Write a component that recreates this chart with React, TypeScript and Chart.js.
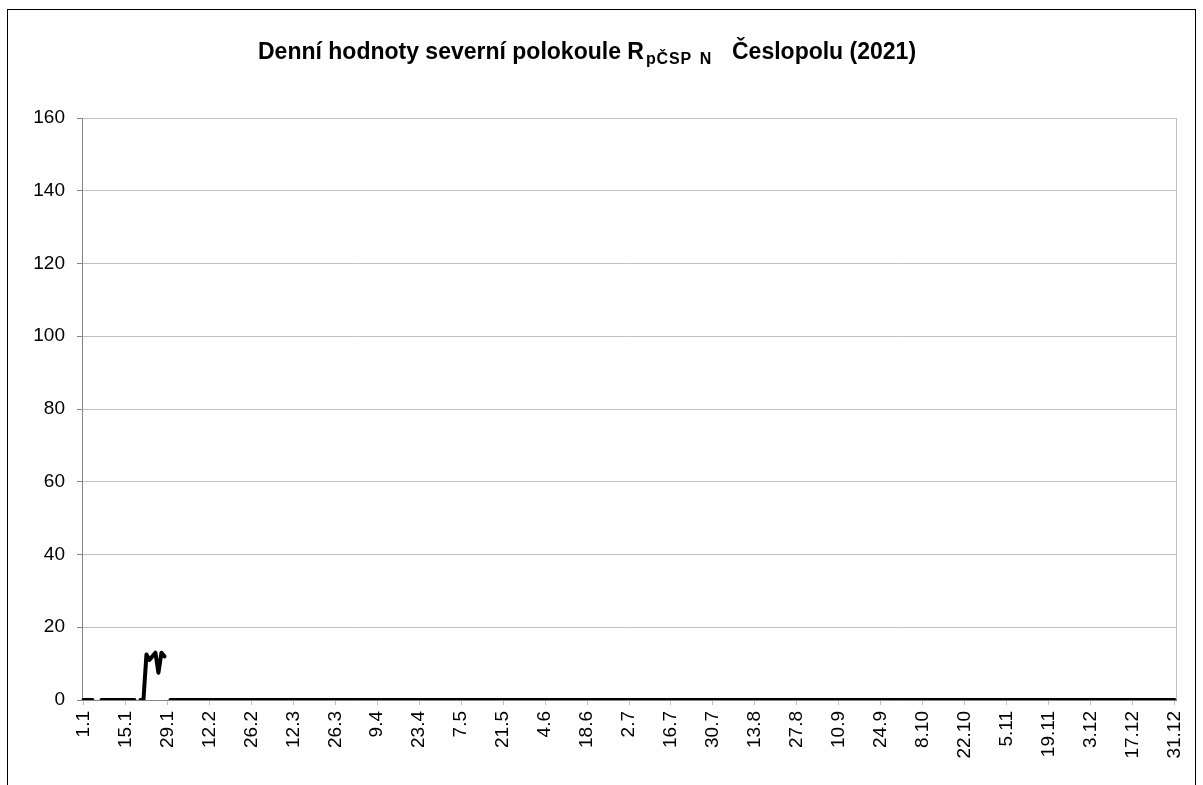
import React, { useEffect, useRef } from "react";
import { Chart, registerables } from "chart.js";

Chart.register(...registerables);

const MONTH_LENGTHS = [31, 28, 31, 30, 31, 30, 31, 31, 30, 31, 30, 31];

const CATEGORIES: string[] = [];
MONTH_LENGTHS.forEach((len, m) => {
  for (let d = 1; d <= len; d++) CATEGORIES.push(`${d}.${m + 1}`);
});

const TICK_LABELS = [
  "1.1", "15.1", "29.1", "12.2", "26.2", "12.3", "26.3", "9.4", "23.4", "7.5",
  "21.5", "4.6", "18.6", "2.7", "16.7", "30.7", "13.8", "27.8", "10.9", "24.9",
  "8.10", "22.10", "5.11", "19.11", "3.12", "17.12", "31.12",
];

const Y_TICKS = [0, 20, 40, 60, 80, 100, 120, 140, 160];

const TITLE_MAIN = "Denní hodnoty severní polokoule R";
const TITLE_SUB = "pČSP N";
const TITLE_END = "Česlopolu (2021)";

// daily values, January (first 29 days read individually), null = missing
const VALUES_START: (number | null)[] = [
  0, 0, 0, 0, null, null, 0, 0, 0, 0,
  0, 0, 0, 0, 0, 0, 0, 0, null, 0,
  0, 12.5, 11, 12, 13, 7.5, 13, 12, null,
];

const VALUES_REST: (number | null)[] = [
  0, 0, 0, 0, 0, 0, 0, 0, 0, 0, 0, 0, 0, 0, 0, 0, 0, 0, 0, 0, 0, 0, 0, 0, 0, 0, 0, 0,
  0, 0, 0, 0, 0, 0, 0, 0, 0, 0, 0, 0, 0, 0, 0, 0, 0, 0, 0, 0, 0, 0, 0, 0, 0, 0, 0, 0,
  0, 0, 0, 0, 0, 0, 0, 0, 0, 0, 0, 0, 0, 0, 0, 0, 0, 0, 0, 0, 0, 0, 0, 0, 0, 0, 0, 0,
  0, 0, 0, 0, 0, 0, 0, 0, 0, 0, 0, 0, 0, 0, 0, 0, 0, 0, 0, 0, 0, 0, 0, 0, 0, 0, 0, 0,
  0, 0, 0, 0, 0, 0, 0, 0, 0, 0, 0, 0, 0, 0, 0, 0, 0, 0, 0, 0, 0, 0, 0, 0, 0, 0, 0, 0,
  0, 0, 0, 0, 0, 0, 0, 0, 0, 0, 0, 0, 0, 0, 0, 0, 0, 0, 0, 0, 0, 0, 0, 0, 0, 0, 0, 0,
  0, 0, 0, 0, 0, 0, 0, 0, 0, 0, 0, 0, 0, 0, 0, 0, 0, 0, 0, 0, 0, 0, 0, 0, 0, 0, 0, 0,
  0, 0, 0, 0, 0, 0, 0, 0, 0, 0, 0, 0, 0, 0, 0, 0, 0, 0, 0, 0, 0, 0, 0, 0, 0, 0, 0, 0,
  0, 0, 0, 0, 0, 0, 0, 0, 0, 0, 0, 0, 0, 0, 0, 0, 0, 0, 0, 0, 0, 0, 0, 0, 0, 0, 0, 0,
  0, 0, 0, 0, 0, 0, 0, 0, 0, 0, 0, 0, 0, 0, 0, 0, 0, 0, 0, 0, 0, 0, 0, 0, 0, 0, 0, 0,
  0, 0, 0, 0, 0, 0, 0, 0, 0, 0, 0, 0, 0, 0, 0, 0, 0, 0, 0, 0, 0, 0, 0, 0, 0, 0, 0, 0,
  0, 0, 0, 0, 0, 0, 0, 0, 0, 0, 0, 0, 0, 0, 0, 0, 0, 0, 0, 0, 0, 0, 0, 0, 0, 0, 0, 0,
];

const VALUES = [...VALUES_START, ...VALUES_REST];

const FONT = "Arial, 'Liberation Sans', sans-serif";

function drawFitted(ctx: any, text: string, x: number, y: number, targetWidth: number, letter = 0) {
  ctx.letterSpacing = `${letter}px`;
  ctx.wordSpacing = "0px";
  const natural = ctx.measureText(text).width;
  const spaces = (text.match(/ /g) || []).length;
  if (spaces > 0) {
    const ws = Math.max(0, (targetWidth - natural) / spaces);
    ctx.wordSpacing = `${ws.toFixed(2)}px`;
  }
  ctx.fillText(text, x, y);
  ctx.wordSpacing = "0px";
  ctx.letterSpacing = "0px";
}

const frameAndTitle = {
  id: "frameAndTitle",
  beforeDraw(chart: any) {
    const ctx = chart.ctx;
    ctx.save();
    ctx.fillStyle = "#ffffff";
    ctx.fillRect(0, 0, chart.width, chart.height);
    ctx.strokeStyle = "#000000";
    ctx.lineWidth = 1;
    ctx.strokeRect(7.5, 9.5, 1188, 800);
    ctx.restore();
  },
  beforeDatasetsDraw(chart: any) {
    const { ctx, chartArea } = chart;
    ctx.save();
    ctx.strokeStyle = "#c0c0c0";
    ctx.lineWidth = 1;
    ctx.beginPath();
    ctx.moveTo(Math.round(chartArea.right) + 0.5, chartArea.top);
    ctx.lineTo(Math.round(chartArea.right) + 0.5, chartArea.bottom);
    ctx.stroke();
    ctx.restore();
  },
  afterDraw(chart: any) {
    const ctx = chart.ctx;
    ctx.save();
    ctx.fillStyle = "#000000";
    ctx.textBaseline = "alphabetic";
    ctx.textAlign = "left";
    ctx.font = `bold 23px ${FONT}`;
    drawFitted(ctx, TITLE_MAIN, 258, 59, 384);
    ctx.font = `bold 16px ${FONT}`;
    drawFitted(ctx, TITLE_SUB, 646, 64, 66, 0.8);
    ctx.font = `bold 23px ${FONT}`;
    drawFitted(ctx, TITLE_END, 732, 59, 184);
    ctx.restore();
  },
};

export default function App() {
  const canvasRef = useRef<HTMLCanvasElement | null>(null);

  useEffect(() => {
    if (!canvasRef.current) return;
    const chart = new Chart(canvasRef.current, {
      type: "line",
      data: {
        labels: CATEGORIES,
        datasets: [
          {
            data: VALUES,
            borderColor: "#000000",
            borderWidth: 4,
            pointRadius: 0,
            pointHoverRadius: 0,
            spanGaps: false,
            borderCapStyle: "round",
            borderJoinStyle: "round",
            tension: 0,
            fill: false,
          },
        ],
      },
      options: {
        animation: false,
        responsive: false,
        devicePixelRatio: 1,
        events: [],
        layout: { padding: { top: 118, right: 27, left: 0, bottom: 0 } },
        plugins: {
          legend: { display: false },
          title: { display: false },
          tooltip: { enabled: false },
        },
        scales: {
          x: {
            type: "category",
            offset: true,
            afterBuildTicks(scale: any) {
              scale.ticks = scale.ticks.filter((t: any) =>
                TICK_LABELS.includes(CATEGORIES[t.value])
              );
            },
            afterFit(scale: any) {
              scale.height = 85;
              scale.paddingLeft = 0;
              scale.paddingRight = 0;
            },
            grid: {
              display: true,
              drawOnChartArea: false,
              drawTicks: true,
              tickLength: 5,
              tickColor: "#c0c0c0",
              offset: false,
            },
            border: { display: true, color: "#868686", width: 1 },
            ticks: {
              autoSkip: false,
              minRotation: 90,
              maxRotation: 90,
              padding: 6,
              color: "#000000",
              font: { family: FONT, size: 19 },
              callback(this: any, value: any) {
                return CATEGORIES[value as number];
              },
            },
          },
          y: {
            min: 0,
            max: 160,
            afterBuildTicks(scale: any) {
              scale.ticks = Y_TICKS.map((v) => ({ value: v }));
            },
            afterFit(scale: any) {
              scale.width = 82;
              scale.paddingTop = 0;
              scale.paddingBottom = 0;
            },
            grid: {
              color: "#c0c0c0",
              lineWidth: 1,
              drawTicks: true,
              tickLength: 5,
              tickColor: "#868686",
            },
            border: { display: true, color: "#868686", width: 1 },
            ticks: {
              padding: 12,
              color: "#000000",
              font: { family: FONT, size: 19 },
            },
          },
        },
      },
      plugins: [frameAndTitle],
    });
    return () => chart.destroy();
  }, []);

  return (
    <div style={{ position: "absolute", left: 0, top: 0, width: 1203, height: 785, overflow: "hidden" }}>
      <canvas ref={canvasRef} width={1203} height={785} style={{ display: "block" }} />
    </div>
  );
}
